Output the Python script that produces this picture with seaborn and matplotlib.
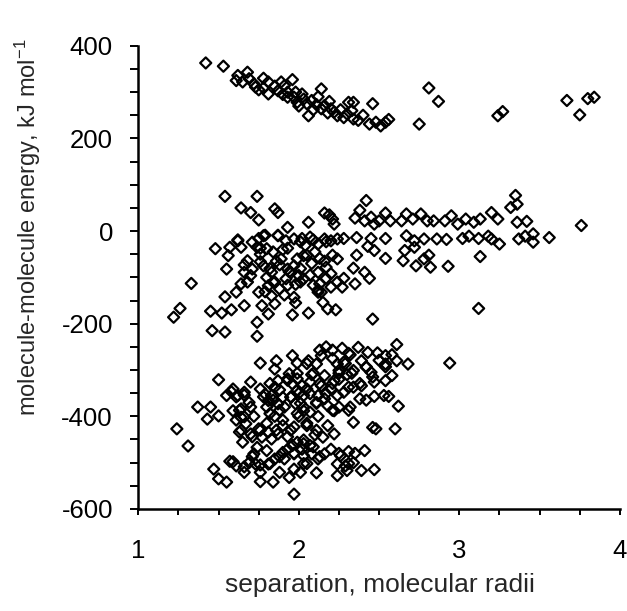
import matplotlib
matplotlib.use("Agg")
import matplotlib.pyplot as plt
import seaborn as sns
import pandas as pd

# values: separation (molecular radii) and energy (kJ/mol)
sep_top = [1.42, 1.53, 1.62, 1.68, 1.61, 1.65, 1.69, 1.72, 1.73, 1.75, 1.78, 1.78, 1.81, 1.81,
           1.85, 1.87, 1.89, 1.90, 1.91, 1.93, 1.96, 1.93, 1.97, 1.98, 1.99, 2.00, 2.02, 2.03,
           2.05, 2.06, 2.08, 2.09, 2.11, 2.12, 2.14, 2.14, 2.16, 2.18, 2.19, 2.20, 2.22, 2.24,
           2.26, 2.28, 2.30, 2.31, 2.33, 2.34, 2.34, 2.37, 2.40, 2.44, 2.46, 2.48, 2.51, 2.54,
           2.56, 2.75, 2.81, 2.87, 3.24, 3.27, 3.67, 3.75, 3.80, 3.84]
energy_top = [363, 356, 336, 343, 325, 322, 329, 318, 311, 305, 330, 309, 322, 296,
              313, 303, 322, 295, 314, 300, 327, 289, 289, 300, 278, 270, 296, 285,
              275, 249, 282, 262, 273, 290, 307, 264, 271, 255, 280, 264, 257, 249,
              262, 245, 253, 278, 260, 278, 242, 239, 250, 231, 275, 235, 227, 235,
              241, 231, 309, 280, 249, 258, 282, 251, 286, 289]

sep_mid = [1.54, 1.74, 1.64, 1.70, 1.75, 1.85, 1.87, 1.93, 2.06, 2.16, 2.19, 2.21, 2.22, 2.38,
           2.42, 2.35, 2.41, 2.45, 2.47, 2.50, 2.54, 2.57, 2.64, 2.67, 2.71, 2.76, 2.80, 2.84,
           2.91, 2.95, 2.99, 3.04, 3.09, 3.13, 3.20, 3.24, 3.32, 3.35, 3.36, 3.36, 3.42, 3.76,
           2.28, 2.36, 2.45, 2.54, 2.67, 2.72, 2.78, 2.86, 2.92, 3.02, 3.06, 3.12, 3.18, 3.20,
           3.25, 3.37, 3.41, 3.46, 3.46, 3.56, 3.13, 3.12, 2.93, 2.54, 2.65, 2.73, 2.78, 2.82,
           2.81, 2.66, 2.72, 2.46, 2.36, 2.43, 2.47,
           1.22, 1.26, 1.33, 1.45, 1.46, 1.54, 1.52, 1.58, 1.54, 1.48, 1.56, 1.55, 1.57, 1.62,
           1.64, 1.68, 1.66, 1.64, 1.61, 1.66, 1.75, 1.74, 1.74, 1.77, 1.81, 1.85, 1.71, 1.74,
           1.78, 1.80, 1.87, 1.92, 1.97, 2.02, 2.07, 2.12, 2.16, 2.20, 2.24, 1.71, 1.70, 1.78,
           1.80, 1.83, 1.81, 1.85, 1.88, 1.89, 1.93, 1.92, 1.97, 1.99, 2.00, 2.03, 2.04, 2.03,
           1.97, 1.98, 1.96, 2.06, 2.12, 2.16, 2.17, 2.20, 2.13, 2.14, 2.12, 2.20, 2.24, 2.27,
           2.24, 2.28, 2.34, 2.35, 2.41, 2.44, 2.15, 2.18, 2.23, 2.12,
           1.90, 1.95, 2.08, 1.86, 1.76, 2.10, 1.98, 1.83,
           1.62, 1.75, 1.79, 1.87, 1.76, 1.84, 1.93, 2.01, 2.09, 2.17, 2.05, 2.13, 2.21, 1.76,
           1.82, 1.88, 1.94, 2.01, 2.07, 1.84, 1.93, 2.01, 2.09, 2.17, 1.66, 1.68, 1.79, 1.91]
energy_mid = [75, 75, 50, 40, 24, 48, 40, 8, 19, 39, 35, 26, 15, 45,
              66, 28, 22, 30, 15, 22, 39, 22, 22, 37, 26, 37, 22, 22,
              22, 33, 15, 26, 19, 26, 40, 26, 51, 77, 58, 19, 21, 12,
              -16, -14, -16, -16, -10, -21, -17, -17, -18, -16, -11, -16, -11, -17,
              -28, -17, -11, -6, -24, -14, -55, -167, -76, -59, -64, -75, -60, -78,
              -52, -42, -35, -190, -52, -33, -42,
              -186, -167, -113, -173, -215, -218, -177, -170, -142, -38, -53, -82, -35, -21,
              -35, -64, -89, -114, -132, -161, -132, -197, -227, -161, -179, -157, -24, -35,
              -10, -38, -10, -21, -17, -16, -13, -28, -17, -21, -17, -82, -96, -75,
              -100, -89, -118, -110, -125, -60, -82, -103, -75, -60, -96, -53, -31, -103,
              -143, -155, -181, -177, -89, -65, -78, -92, -114, -132, -132, -121, -110, -121,
              -60, -102, -80, -114, -89, -102, -154, -168, -170, -127,
              -40, -90, -70, -65, -50, -45, -115, -140,
              -19, -16, -9, -9, -37, -45, -37, -23, -19, -23, -52, -59, -52, -66,
              -81, -73, -88, -81, -95, -110, -117, -110, -117, -102, -73, -110, -131, -138]

sep_low = [2.17, 2.27, 2.32, 2.37, 2.43, 2.49, 2.54, 2.58, 2.61, 2.61, 2.68, 2.94, 1.96, 1.99,
           2.06, 2.11, 2.14, 2.21, 2.24, 2.28, 2.25, 2.39, 2.42, 2.45, 2.54, 2.54, 2.58, 2.47,
           2.47, 2.53, 2.56, 2.62, 2.34, 2.34, 2.39, 2.38, 2.32, 2.28, 2.31, 2.22, 2.20, 2.24,
           2.25, 2.22, 2.16, 2.14, 2.16, 2.18, 2.12, 2.11, 2.07, 2.05, 2.03, 2.07, 2.03, 2.02,
           1.99, 1.96, 1.95, 1.98, 1.93, 1.94, 1.87, 1.85, 1.83, 1.87, 1.91, 1.90, 1.76, 1.79,
           1.81, 1.70, 1.76, 1.86, 1.85, 1.50, 1.55, 1.59, 1.62, 1.66, 1.69, 1.64, 1.59, 1.64,
           1.67, 1.37, 1.43, 1.45, 1.50, 1.24, 1.31, 1.63, 1.65, 1.70, 1.75, 1.77, 1.81, 1.83,
           1.87, 1.74, 1.80, 1.72, 1.90, 1.93, 1.97, 1.96, 1.99, 2.02, 2.07, 2.03, 2.08, 2.12,
           2.15, 2.22, 2.20, 2.16, 2.34, 2.46, 2.48, 2.60, 2.41, 2.31, 2.26, 2.24, 2.29, 2.34,
           2.39, 2.30, 2.24, 2.47, 2.11, 2.01, 1.97, 1.94, 1.88, 1.84, 1.76, 1.76, 1.81, 1.73,
           1.69, 1.66, 1.61, 1.57, 1.47, 1.50, 1.55, 1.97, 1.91, 1.85,
           2.00, 2.05, 1.95, 2.10, 1.90, 2.12, 2.18, 1.85, 2.25, 2.30, 2.08, 2.00, 1.80, 1.72,
           1.58, 1.61, 1.66, 1.70, 1.63, 1.66, 1.61, 1.64, 1.71, 1.76, 1.80, 1.82, 1.88, 1.90,
           1.86, 1.93, 1.97, 1.99, 2.01, 1.95, 1.99, 1.88, 1.84, 1.78, 1.82, 1.93, 1.99, 2.03,
           1.97, 1.88, 1.82, 1.76, 1.71, 1.59, 1.66, 2.03,
           2.05, 2.09, 2.13, 2.07, 2.17, 2.21, 2.25, 2.29, 2.33, 2.38, 2.42, 2.46, 2.50, 2.54,
           2.03, 2.11, 2.21, 2.05, 2.03, 2.09, 2.13, 2.05, 2.11, 2.25, 2.31, 2.35, 2.31, 2.42,
           2.31, 2.13, 2.21]
energy_low = [-250, -253, -267, -251, -262, -263, -269, -267, -245, -280, -287, -285, -269, -285,
              -280, -287, -269, -275, -287, -283, -301, -280, -294, -305, -287, -323, -312, -326,
              -357, -355, -357, -378, -301, -337, -334, -362, -380, -348, -337, -323, -341, -355,
              -380, -388, -312, -334, -362, -377, -355, -370, -326, -341, -355, -391, -388, -334,
              -319, -330, -359, -373, -319, -308, -323, -337, -355, -373, -380, -359, -341, -352,
              -366, -326, -285, -280, -298, -321, -355, -341, -355, -348, -370, -384, -388, -402,
              -416, -380, -406, -380, -399, -427, -464, -434, -456, -438, -427, -445, -434, -449,
              -438, -467, -474, -481, -478, -471, -481, -463, -456, -471, -463, -485, -481, -492,
              -445, -438, -471, -481, -413, -424, -427, -427, -474, -476, -485, -503, -507, -500,
              -517, -517, -528, -515, -522, -521, -514, -532, -521, -542, -541, -521, -503, -503,
              -500, -521, -507, -497, -514, -535, -542, -568, -492, -492,
              -400, -420, -430, -440, -420, -400, -420, -400, -320, -310, -310, -350, -380, -400,
              -347, -358, -354, -380, -387, -401, -408, -430, -444, -430, -415, -394, -387, -408,
              -430, -444, -423, -394, -372, -358, -343, -343, -365, -358, -329, -322, -307, -459,
              -480, -487, -502, -505, -487, -498, -509, -502,
              -286, -307, -329, -351, -351, -329, -307, -286, -307, -329, -293, -315, -279, -293,
              -380, -372, -387, -415, -451, -466, -487, -502, -430, -480, -502, -480, -387, -365,
              -264, -257, -257]

df = pd.DataFrame({
    "sep": sep_top + sep_mid + sep_low,
    "energy": energy_top + energy_mid + energy_low,
})

sns.set_style("ticks", {"axes.edgecolor": "0", "xtick.color": "0", "ytick.color": "0"})
plt.rcParams["font.family"] = ["Liberation Sans", "DejaVu Sans"]
plt.rcParams["mathtext.default"] = "regular"
plt.rcParams["axes.unicode_minus"] = False

fig = plt.figure(figsize=(6.27, 6.11), dpi=100)
ax = fig.add_axes([0.2206, 0.167, 0.768, 0.758])

sns.scatterplot(data=df, x="sep", y="energy", ax=ax, marker="D", s=32,
                facecolor="none", edgecolor="black", linewidth=1.6, legend=False)

ax.set_xlim(1, 4)
ax.set_ylim(-600, 400)
ax.set_xticks([1, 2, 3, 4])
ax.set_xticks([1 + 0.25 * i for i in range(13)], minor=True)
ax.set_yticks([-600, -400, -200, 0, 200, 400])
ax.set_yticks(list(range(-600, 401, 50)), minor=True)
ax.tick_params(axis="y", which="both", direction="out", length=5.8, width=1.4,
               labelsize=18.5, pad=12.5)
ax.tick_params(axis="x", which="both", direction="out", length=4.5, width=1.4,
               labelsize=18.5, pad=17)
for s in ["left", "bottom"]:
    ax.spines[s].set_linewidth(1.8)
sns.despine(ax=ax)

ax.set_xlabel("separation, molecular radii", fontsize=19)
ax.set_ylabel("molecule-molecule energy, kJ mol$^{-1}$", fontsize=17)
ax.xaxis.set_label_coords(0.502, -0.138)
ax.yaxis.set_label_coords(-0.198, 0.609)

fig.savefig("out.png", dpi=100)
